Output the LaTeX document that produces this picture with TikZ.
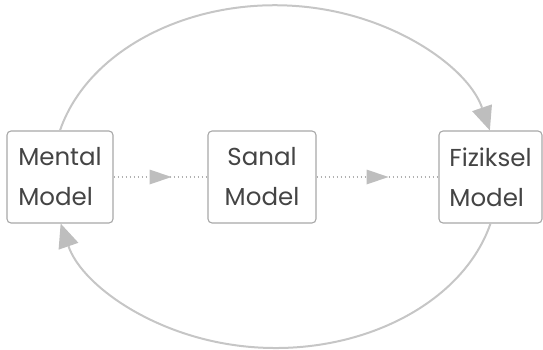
\documentclass[tikz,border=0pt]{standalone}
\usepackage{fontspec}
\setmainfont{Poppins}
\usetikzlibrary{arrows.meta,decorations.markings}
\definecolor{boxline}{HTML}{A8A8A8}
\definecolor{txt}{HTML}{444444}
\definecolor{loopline}{HTML}{C6C6C6}
\definecolor{loophead}{HTML}{BEBEBE}
\definecolor{dotline}{HTML}{B0B0B0}
\tikzset{
  modelbox/.style={draw=boxline, line width=1.1pt, rounded corners=4pt, fill=white,
    minimum height=92pt, inner sep=0pt, text=txt,
    font=\fontsize{24.5}{40}\selectfont},
  loop/.style={draw=loopline, line width=2pt,
    -{Triangle[length=24pt,width=21pt,fill=loophead,line width=0pt]}},
  dotarrow/.style={draw=dotline, line width=1.5pt, dash pattern=on 1.5pt off 2.5pt,
    postaction={decorate},
    decoration={markings, mark=at position 0.5 with
      {\fill[loophead] (-11pt,-7.5pt) -- (11pt,0pt) -- (-11pt,7.5pt) -- cycle;}}}
}
\begin{document}
\begin{tikzpicture}[x=1pt,y=1pt]
  \useasboundingbox (0,0) rectangle (543,349);
  % the three model boxes
  \node[modelbox, minimum width=106pt, align=left] (m) at (60,172) {Mental\\Model};
  \node[modelbox, minimum width=108pt, align=center] (s) at (262,172) {Sanal\\Model};
  \node[modelbox, minimum width=103pt, align=left] (f) at (490.5,172) {Fiziksel\\Model};
  % forward flow
  \draw[dotarrow] (m.east) -- (s.west);
  \draw[dotarrow] (s.east) -- (f.west);
  % feedback loops
  \draw[loop] (m.north) arc[start angle=165.5, end angle=14.5, x radius=222pt, y radius=167pt];
  \draw[loop] (f.south) arc[start angle=-14.5, end angle=-165.5, x radius=222pt, y radius=166pt];
\end{tikzpicture}
\end{document}
